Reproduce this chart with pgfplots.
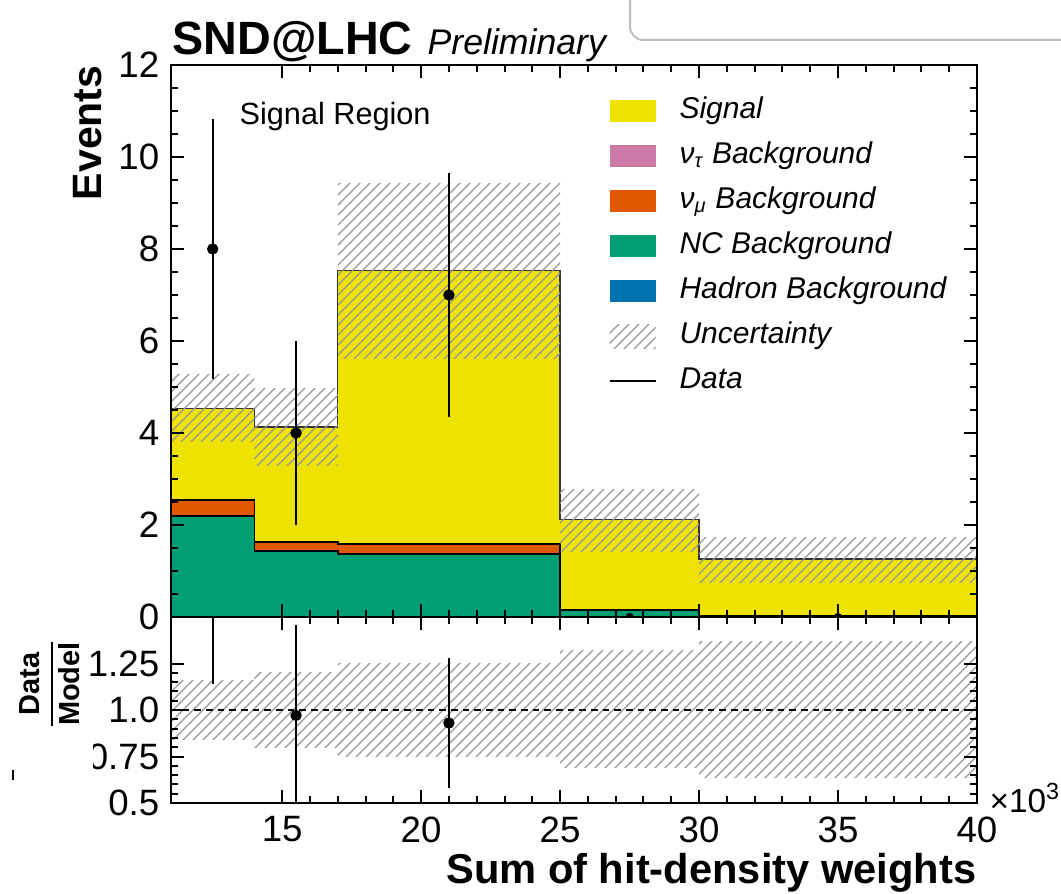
\documentclass[border=0pt]{standalone}
\usepackage{fontspec}
\setmainfont{Liberation Sans}
\usepackage{pgfplots}
\pgfplotsset{compat=1.18}
\usetikzlibrary{patterns}

\definecolor{sigyellow}{RGB}{237,226,0}
\definecolor{nutau}{RGB}{204,121,167}
\definecolor{numu}{RGB}{224,88,0}
\definecolor{ncgreen}{RGB}{0,158,115}
\definecolor{hadblue}{RGB}{0,114,178}
\definecolor{hatchgray}{RGB}{150,150,150}

\pgfplotsset{
  sndaxis/.style={
    scale only axis, width=241.8pt, xmin=11, xmax=40,
    axis on top, clip marker paths=true,
    axis line style={line width=0.75pt},
    tick align=inside, tick pos=both,
    major tick length=4pt, minor tick length=2pt,
    tick style={black, line width=0.6pt},
    xtick={15,20,...,40}, minor x tick num=4,
    tick label style={font=\fontsize{11}{12}\selectfont},
    /pgf/number format/assume math mode=true,
  },
  band/.style={forget plot, draw=none, pattern=north east lines, pattern color=hatchgray},
  datapts/.style={forget plot, black, only marks, mark=*, mark size=1.5pt,
    error bars/.cd, y dir=both, y explicit, error mark=none,
    error bar style={line width=0.6pt}},
}

\begin{document}
\begin{tikzpicture}
\useasboundingbox (-51.3pt,-82.8pt) rectangle (267pt,185.1pt);

\begin{axis}[sndaxis, name=top, at={(0pt,0pt)}, anchor=south west,
  height=165.6pt, ymin=0, ymax=12, ytick={0,2,...,12}, minor y tick num=3,
  xticklabels={},
  legend cell align=left,
  legend style={at={(rel axis cs:0.542,0.958)}, anchor=north west, draw=none, fill=none,
    inner sep=0pt, row sep=0pt,
    font=\fontsize{9}{10}\selectfont\itshape,
    nodes={text height=7.5pt, text depth=3pt, inner ysep=1.5pt, inner xsep=6.9pt}}]

% stacked histogram: total (signal on top), nu_mu + NC, NC
\addplot[forget plot, const plot, fill=sigyellow, draw=black!80, line width=0.4pt]
  coordinates {(11,4.53) (14,4.13) (17,7.53) (25,2.12) (30,1.26) (40,1.26)} \closedcycle;
\addplot[forget plot, const plot, fill=numu, draw=black, line width=0.5pt]
  coordinates {(11,2.55) (14,1.63) (17,1.59) (25,0.16) (30,0.03) (40,0.03)} \closedcycle;
\addplot[forget plot, const plot, fill=ncgreen, draw=black, line width=0.5pt]
  coordinates {(11,2.20) (14,1.44) (17,1.37) (25,0.14) (30,0.02) (40,0.02)} \closedcycle;

% uncertainty
\addplot[band] coordinates {(11,3.82) (14,3.82) (14,5.27) (11,5.27)} -- cycle;
\addplot[band] coordinates {(14,3.30) (17,3.30) (17,4.97) (14,4.97)} -- cycle;
\addplot[band] coordinates {(17,5.63) (25,5.63) (25,9.43) (17,9.43)} -- cycle;
\addplot[band] coordinates {(25,1.43) (30,1.43) (30,2.77) (25,2.77)} -- cycle;
\addplot[band] coordinates {(30,0.76) (40,0.76) (40,1.72) (30,1.72)} -- cycle;

% data
\addplot[datapts] coordinates {(12.5,8) +- (0,2.83) (15.5,4) +- (0,2) (21,7) +- (0,2.65)};
\addplot[forget plot, black, only marks, mark=*, mark size=1pt] coordinates {(27.5,0) (35,0)};

\addlegendimage{legend image code/.code={\fill[sigyellow, draw=none] (0pt,-3.3pt) rectangle (13.8pt,3.3pt);}}
\addlegendentry{Signal}
\addlegendimage{legend image code/.code={\fill[nutau, draw=none] (0pt,-3.3pt) rectangle (13.8pt,3.3pt);}}
\addlegendentry{ν\textsubscript{τ} Background}
\addlegendimage{legend image code/.code={\fill[numu, draw=none] (0pt,-3.3pt) rectangle (13.8pt,3.3pt);}}
\addlegendentry{ν\textsubscript{μ} Background}
\addlegendimage{legend image code/.code={\fill[ncgreen, draw=none] (0pt,-3.3pt) rectangle (13.8pt,3.3pt);}}
\addlegendentry{NC Background}
\addlegendimage{legend image code/.code={\fill[hadblue, draw=none] (0pt,-3.3pt) rectangle (13.8pt,3.3pt);}}
\addlegendentry{Hadron Background}
\addlegendimage{legend image code/.code={\path[draw=none, pattern=north east lines, pattern color=hatchgray] (0pt,-3.5pt) rectangle (13.8pt,3.5pt);}}
\addlegendentry{Uncertainty}
\addlegendimage{legend image code/.code={\draw[black, line width=0.6pt] (0pt,0pt) -- (13.8pt,0pt);}}
\addlegendentry{Data}
\end{axis}

\begin{axis}[sndaxis, at={(top.south west)}, anchor=north west, height=55.8pt,
  ymin=0.5, ymax=1.5, ytick={0.5,0.75,1,1.25}, yticklabels={0.5,0.75,1.0,1.25},
  minor y tick num=4,
  xticklabels={15,20,25,30,35,40}, xticklabel style={yshift=-0.5pt}]
\addplot[band] coordinates {(11,0.84) (14,0.84) (14,1.16) (11,1.16)} -- cycle;
\addplot[band] coordinates {(14,0.80) (17,0.80) (17,1.20) (14,1.20)} -- cycle;
\addplot[band] coordinates {(17,0.75) (25,0.75) (25,1.25) (17,1.25)} -- cycle;
\addplot[band] coordinates {(25,0.69) (30,0.69) (30,1.32) (25,1.32)} -- cycle;
\addplot[band] coordinates {(30,0.635) (40,0.635) (40,1.37) (30,1.37)} -- cycle;
\addplot[forget plot, black, line width=0.5pt, dash pattern=on 2pt off 1.5pt]
  coordinates {(11,1) (40,1)};
\addplot[datapts] coordinates {(12.5,1.766) += (0,0.7) -= (0,0.626)
  (15.5,0.971) +- (0,0.485) (21,0.93) +- (0,0.352)};
\end{axis}

% texts
\node[anchor=base west, inner sep=0pt] at (0.3pt,168.6pt)
  {\fontsize{14}{14}\selectfont\bfseries SND@LHC\hspace{4.5pt}\fontsize{10.7}{12}\selectfont\mdseries\itshape Preliminary};
\node[anchor=base west, inner sep=0pt, font=\fontsize{9.2}{10}\selectfont] at (20.4pt,147.6pt) {Signal Region};
\node[rotate=90, anchor=base east, inner sep=0pt, font=\fontsize{12.3}{13}\selectfont\bfseries] at (-20.7pt,165.6pt) {Events};
\node[rotate=90, inner sep=0pt, font=\fontsize{8.7}{9}\selectfont\bfseries] at (-36.3pt,-20.1pt)
  {$\displaystyle\frac{\hbox{Data}}{\hbox{Model}}$};
\node[anchor=base east, inner sep=0pt, font=\fontsize{12.5}{13}\selectfont\bfseries] at (241.8pt,-79.8pt) {Sum of hit-density weights};
\node[anchor=base west, inner sep=0pt, font=\fontsize{10}{11}\selectfont] at (245.4pt,-58.5pt) {×10\textsuperscript{3}};

% screen artefacts of the reference
\draw[black!25, line width=0.6pt, rounded corners=4pt, fill=white] (137.7pt,173.1pt) rectangle (300pt,200pt);
\fill[white] (-51.3pt,-35.4pt) rectangle (-23.4pt,-50.4pt);
\draw[black, line width=0.7pt] (-47.4pt,-45.9pt) -- (-47.4pt,-48.9pt);
\end{tikzpicture}
\end{document}
